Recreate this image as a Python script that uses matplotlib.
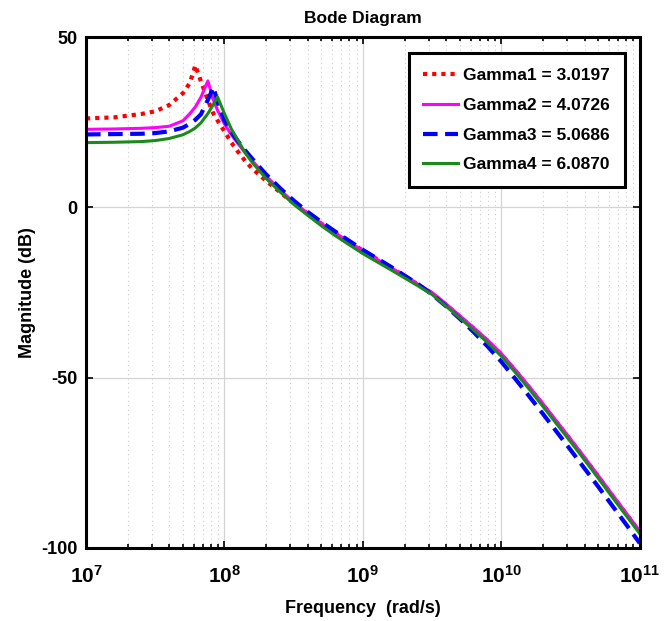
import numpy as np
import matplotlib
matplotlib.use('Agg')
import matplotlib.pyplot as plt
from matplotlib.ticker import LogLocator, NullFormatter

plt.rcParams['font.family'] = 'Liberation Sans'
plt.rcParams['font.weight'] = 'bold'
plt.rcParams['mathtext.fontset'] = 'custom'
plt.rcParams['mathtext.rm'] = 'Liberation Sans:bold'
plt.rcParams['mathtext.bf'] = 'Liberation Sans:bold'
plt.rcParams['mathtext.default'] = 'bf'
plt.rcParams['axes.unicode_minus'] = False

# log10 of frequency (rad/s) for every sample
log_freq = [7.0, 7.2, 7.4, 7.5, 7.6, 7.7, 7.75, 7.79, 7.83, 7.88, 7.92, 7.95,
            8.0, 8.05, 8.1, 8.15, 8.2, 8.3, 8.4, 8.5, 8.6, 8.7, 8.8, 9.0, 9.2,
            9.4, 9.5, 9.6, 9.7, 9.8, 9.9, 10.0, 10.1, 10.2, 10.3, 10.4, 10.5,
            10.6, 10.7, 10.8, 10.9, 11.0]

# magnitude in dB
gamma1_db = [26.1, 26.4, 27.4, 28.2, 30.0, 33.5, 36.5, 41.7, 37.0, 31.5, 27.5, 25.5,
             22.3, 19.0, 16.2, 13.6, 11.4, 7.8, 4.5, 1.2, -1.8, -4.8, -7.5, -12.7, -17.6,
             -22.7, -25.3, -28.6, -32.1, -35.6, -39.2, -43.2, -47.9, -52.8, -57.9, -63.1, -68.3,
             -73.6, -79.0, -84.5, -89.9, -95.3]
gamma2_db = [22.9, 23.0, 23.2, 23.4, 23.8, 25.4, 27.5, 29.5, 32.3, 37.1, 31.5, 28.5,
             24.5, 21.3, 18.6, 16.0, 13.7, 9.2, 5.2, 1.5, -1.7, -4.7, -7.5, -12.8, -17.6,
             -22.6, -25.0, -28.3, -31.8, -35.3, -38.9, -42.9, -47.6, -52.5, -57.6, -62.8, -68.0,
             -73.3, -78.7, -84.2, -89.6, -95.0]
gamma3_db = [21.4, 21.5, 21.6, 21.8, 22.3, 23.4, 24.5, 25.7, 27.3, 31.5, 35.3, 31.0,
             25.5, 22.0, 19.3, 16.7, 14.3, 9.7, 5.7, 2.0, -1.3, -4.3, -7.1, -12.5, -17.4,
             -22.6, -25.6, -29.0, -32.7, -36.6, -40.8, -45.3, -50.3, -55.4, -60.6, -65.9, -71.2,
             -76.6, -82.0, -87.5, -93.0, -98.6]
gamma4_db = [19.0, 19.1, 19.3, 19.6, 20.2, 21.3, 22.3, 23.3, 24.8, 27.5, 30.2, 32.4,
             27.5, 23.0, 19.5, 16.0, 13.2, 8.5, 4.6, 0.9, -2.3, -5.4, -8.3, -13.6, -18.3,
             -23.1, -25.6, -29.0, -32.5, -36.0, -39.7, -43.7, -48.4, -53.3, -58.4, -63.6, -68.8,
             -74.1, -79.5, -85.0, -90.4, -95.8]

labels = ['Gamma1 = 3.0197', 'Gamma2 = 4.0726', 'Gamma3 = 5.0686', 'Gamma4 = 6.0870']

freq = 10.0 ** np.array(log_freq)

fig = plt.figure(figsize=(6.72, 6.21), dpi=100)
ax = fig.add_axes([0.128, 0.1176, 0.824, 0.8228])

ax.semilogx(freq, gamma1_db, color='red', linestyle=(0, (1, 1.2)), linewidth=3.0, label=labels[0])
ax.semilogx(freq, gamma2_db, color='magenta', linestyle='-', linewidth=2.2, label=labels[1])
ax.semilogx(freq, gamma3_db, color='blue', linestyle=(0, (3.5, 1.8)), linewidth=3.0, label=labels[2])
ax.semilogx(freq, gamma4_db, color='#1a8a1a', linestyle='-', linewidth=2.2, label=labels[3])

ax.set_xlim(1e7, 1e11)
ax.set_ylim(-100, 50)
ax.set_yticks([-100, -50, 0, 50])
ax.xaxis.set_major_locator(LogLocator(base=10, numticks=10))
ax.xaxis.set_minor_locator(LogLocator(base=10, subs=np.arange(2, 10), numticks=20))
ax.xaxis.set_minor_formatter(NullFormatter())

ax.grid(True, which='major', color='#d4d4d4', linestyle='-', linewidth=0.9)
ax.grid(True, which='minor', axis='x', color='#cccccc', linestyle=(0, (1, 3)), linewidth=0.8)
ax.set_axisbelow(True)

ax.tick_params(which='both', direction='in', top=True, right=True, width=1.2)
ax.tick_params(which='major', length=5)
ax.tick_params(which='minor', length=3)
ax.tick_params(axis='y', labelsize=13, pad=6)
ax.tick_params(axis='x', labelsize=15, pad=12)
for s in ax.spines.values():
    s.set_linewidth(2.2)

ax.set_title('Bode Diagram', fontsize=12.5, fontweight='bold', pad=10)
ax.set_xlabel('Frequency  (rad/s)', fontsize=13, fontweight='bold', labelpad=10)
ax.set_ylabel('Magnitude (dB)', fontsize=13, fontweight='bold', labelpad=4)

leg = ax.legend(loc='upper right', bbox_to_anchor=(0.973, 0.969), borderaxespad=0, fontsize=12.5,
                frameon=True, fancybox=False, edgecolor='black', framealpha=1,
                handlelength=2.0, handletextpad=0.3, labelspacing=0.85, borderpad=0.85)
leg.get_frame().set_linewidth(2.2)

plt.savefig('out.png', dpi=100)
